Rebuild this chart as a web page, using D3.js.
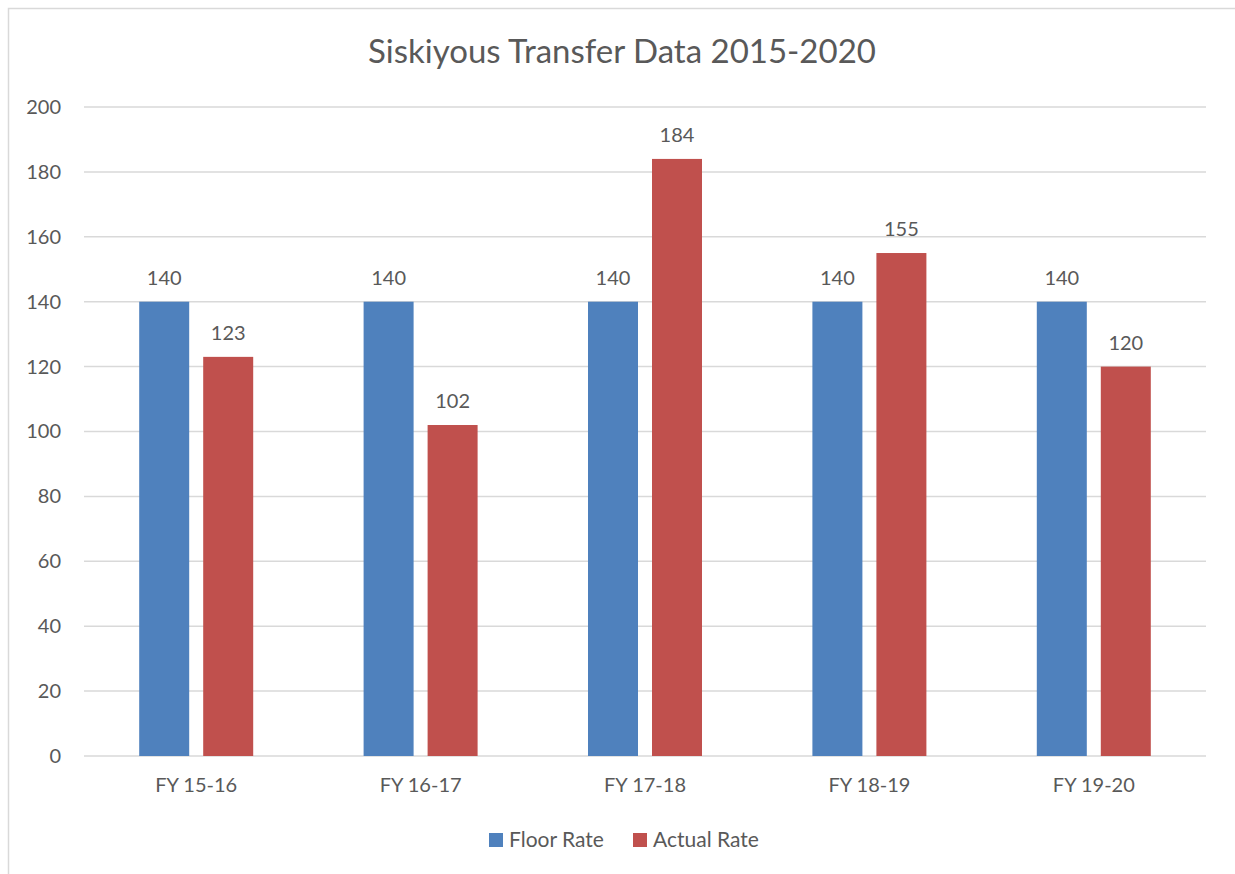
<!doctype html>
<html>
<head>
<meta charset="utf-8"/>
<title>Siskiyous Transfer Data 2015-2020</title>
<script src="https://d3js.org/d3.v7.min.js"></script>
<style>
body{margin:0;background:#fff;}
text{font-family:Lato,"Open Sans",sans-serif;fill:#595959;}
</style>
</head>
<body>
<script type="text/javascript">
// data
var categories = ["FY 15-16", "FY 16-17", "FY 17-18", "FY 18-19", "FY 19-20"];
var seriesNames = ["Floor Rate", "Actual Rate"];
var floorRate = [140, 140, 140, 140, 140];
var actualRate = [123, 102, 184, 155, 120];
var yTicks = [0, 20, 40, 60, 80, 100, 120, 140, 160, 180, 200];
var colors = ["#4F81BD", "#C0504D"];

var W = 1235, H = 874;
var svg = d3.select("body").append("svg")
  .attr("width", W).attr("height", H);

// chart frame
svg.append("rect")
  .attr("x", 8.5).attr("y", 8.5)
  .attr("width", 1240).attr("height", 880)
  .attr("fill", "white").attr("stroke", "#d9d9d9").attr("stroke-width", 1.5);

var pLeft = 84, pRight = 1206, pTop = 107, pBottom = 756;

var x = d3.scaleBand().domain(categories).range([pLeft, pRight]).paddingInner(0).paddingOuter(0);
var x1 = d3.scaleBand().domain(seriesNames).range([0, 114]).paddingInner(14 / 64);
var y = d3.scaleLinear().domain([0, 200]).range([pBottom, pTop]);

// title
svg.append("text")
  .attr("x", 622).attr("y", 63)
  .attr("text-anchor", "middle")
  .style("font-size", "33px")
  .text("Siskiyous Transfer Data 2015-2020");

// gridlines
svg.append("g").selectAll("line").data(yTicks).enter().append("line")
  .attr("x1", pLeft).attr("x2", pRight)
  .attr("y1", function(d){ return y(d); }).attr("y2", function(d){ return y(d); })
  .attr("stroke", "#d9d9d9").attr("stroke-width", 1.5);

// y axis labels
var yAxis = d3.axisLeft(y).tickValues(yTicks).tickSize(0).tickPadding(0);
var gy = svg.append("g").attr("transform", "translate(" + 61 + ",0)").call(yAxis);
gy.select(".domain").remove();
gy.selectAll("text").style("font-size", "20px").attr("fill", "#595959");

// x axis labels
var xAxis = d3.axisBottom(x).tickSize(0).tickPadding(0);
var gx = svg.append("g").attr("transform", "translate(0," + 778 + ")").call(xAxis);
gx.select(".domain").remove();
gx.selectAll("text").style("font-size", "20px").attr("fill", "#595959");
gy.attr("font-family", null);
gx.attr("font-family", null);

// bars
var rows = categories.map(function(c, i){
  return {cat: c, vals: [floorRate[i], actualRate[i]]};
});

var groups = svg.append("g").selectAll("g").data(rows).enter().append("g")
  .attr("transform", function(d){ return "translate(" + (x(d.cat) + (x.bandwidth() - 114) / 2) + ",0)"; });

groups.selectAll("rect").data(function(d){
    return d.vals.map(function(v, j){ return {name: seriesNames[j], v: v, j: j}; });
  }).enter().append("rect")
  .attr("x", function(d){ return x1(d.name); })
  .attr("y", function(d){ return y(d.v); })
  .attr("width", x1.bandwidth())
  .attr("height", function(d){ return y(0) - y(d.v); })
  .attr("fill", function(d){ return colors[d.j]; });

groups.selectAll("text").data(function(d){
    return d.vals.map(function(v, j){ return {name: seriesNames[j], v: v, j: j}; });
  }).enter().append("text")
  .attr("x", function(d){ return x1(d.name) + x1.bandwidth() / 2; })
  .attr("y", function(d){ return y(d.v) - 17; })
  .attr("text-anchor", "middle")
  .style("font-size", "20px")
  .text(function(d){ return d.v; });

// legend
var legX = [489, 633];
var leg = svg.append("g").selectAll("g").data(seriesNames).enter().append("g")
  .attr("transform", function(d, i){ return "translate(" + legX[i] + ",833)"; });
leg.append("rect").attr("width", 14).attr("height", 14)
  .attr("fill", function(d, i){ return colors[i]; });
leg.append("text").attr("x", 20).attr("y", 14)
  .style("font-size", "21px")
  .text(function(d){ return d; });
</script>
</body>
</html>
